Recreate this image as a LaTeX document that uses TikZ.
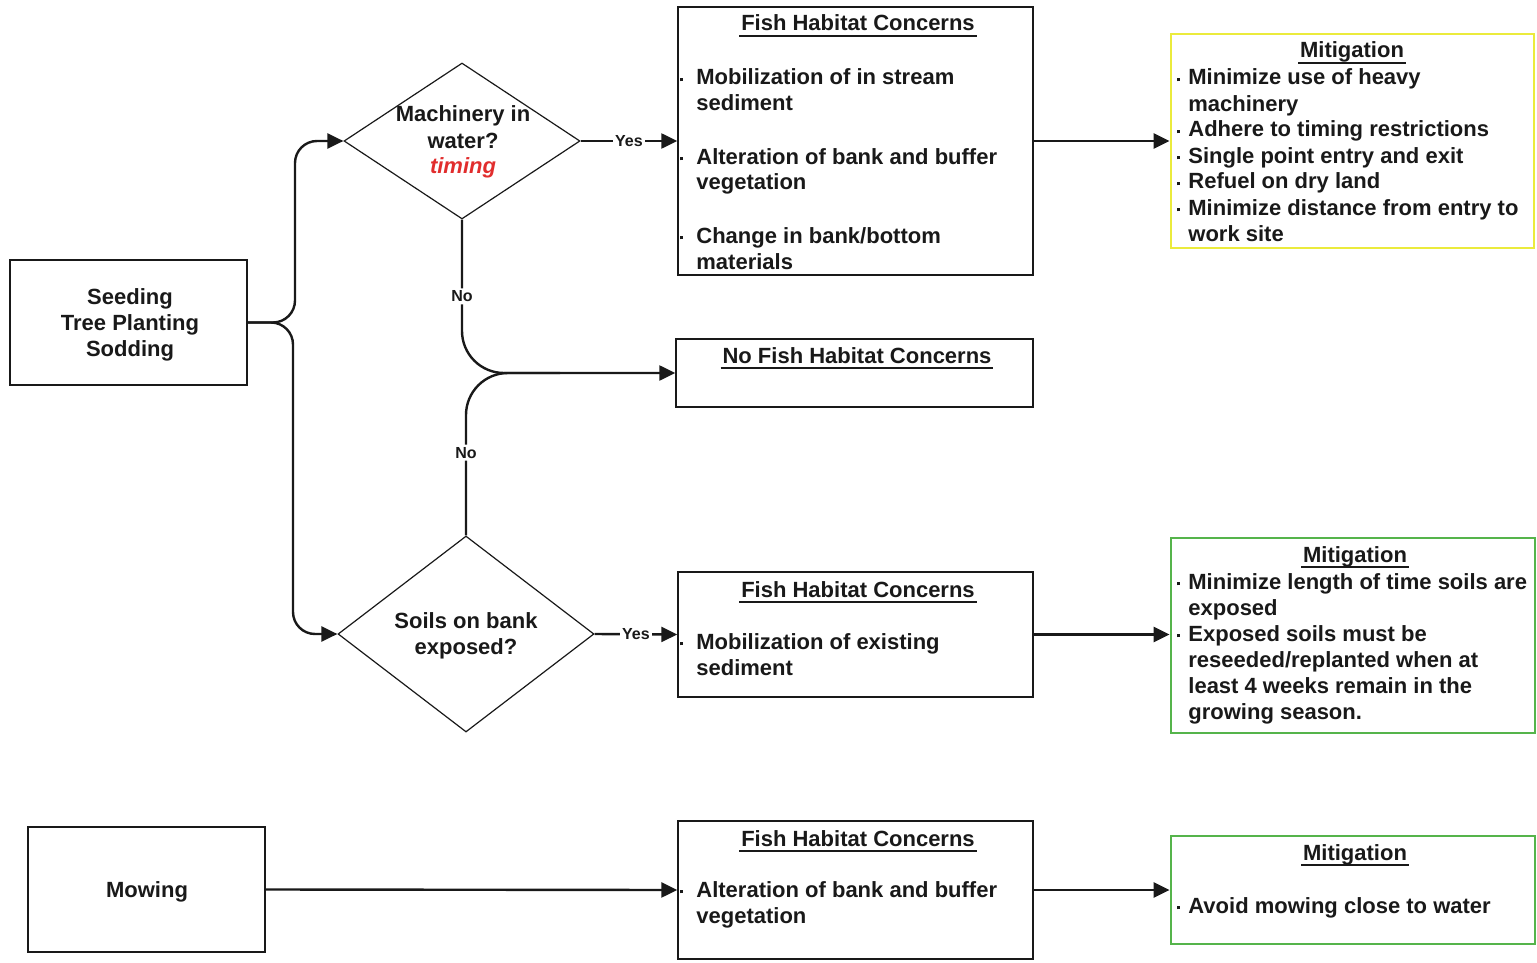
\documentclass[tikz,border=0pt]{standalone}
\usepackage{fontspec}
\setmainfont{Liberation Sans}
\usetikzlibrary{shapes.geometric,arrows.meta}
\definecolor{mityellow}{RGB}{235,235,60}
\definecolor{mitgreen}{RGB}{85,180,75}
\definecolor{timred}{RGB}{225,45,45}
\definecolor{ink}{RGB}{25,25,25}
\newcommand{\bul}[1]{\makebox[#1][l]{\raisebox{1.8pt}{\rule{1.5pt}{1.5pt}}}}
\newsavebox{\tlbox}
\newcommand{\ttl}[1]{\sbox{\tlbox}{#1}\rlap{\hspace{-1pt}\rule[-2.8pt]{\dimexpr\wd\tlbox+2pt\relax}{0.75pt}}\usebox{\tlbox}}
\begin{document}
\begin{tikzpicture}[x=0.5pt,y=-0.5pt,
  box/.style={rectangle, draw=ink, line width=0.7pt, inner sep=0pt},
  dia/.style={diamond, draw=ink, line width=0.6pt, inner sep=0pt},
  mit/.style={rectangle, line width=1.4pt, inner sep=0pt},
  txt/.style={font=\bfseries\fontsize{11}{13}\selectfont, text=ink, inner sep=0pt, align=left, anchor=base west},
  ctr/.style={font=\bfseries\fontsize{11}{13}\selectfont, text=ink, inner sep=0pt, align=center, anchor=base},
  lbl/.style={font=\bfseries\fontsize{8}{9}\selectfont, text=ink, fill=white, inner sep=1.2pt},
  conn/.style={line width=1.2pt, draw=ink},
  arr/.style={conn, -{Triangle[length=8pt,width=7.5pt]}}
]
\useasboundingbox (0,0) rectangle (1537,963);

% boxes
\node[box, minimum width=118.5pt, minimum height=62.5pt] (seed) at (128.5,322.5) {};
\node[dia, minimum width=118pt, minimum height=78pt] (d1) at (462,141) {};
\node[box, minimum width=177.5pt, minimum height=134pt] (f1) at (855.5,141) {};
\node[mit, draw=mityellow, minimum width=181.5pt, minimum height=107pt] (m1) at (1352.5,141) {};
\node[box, minimum width=178.5pt, minimum height=34pt] (nf) at (854.5,373) {};
\node[dia, minimum width=128pt, minimum height=98pt] (d2) at (466,634) {};
\node[box, minimum width=177.5pt, minimum height=62.5pt] (f2) at (855.5,634.5) {};
\node[mit, draw=mitgreen, minimum width=182pt, minimum height=97.5pt] (m2) at (1353,635.5) {};
\node[box, minimum width=118.5pt, minimum height=62.5pt] (mow) at (146.5,889.5) {};
\node[box, minimum width=177.5pt, minimum height=69pt] (f3) at (855.5,890) {};
\node[mit, draw=mitgreen, minimum width=182pt, minimum height=54pt] (m3) at (1353,890) {};

% texts (multi-line nodes: base = last line's baseline)
\node[ctr] (seedt) at (130,356) {Seeding\\Tree Planting\\Sodding};
\node[ctr] (mowt) at (147,897) {Mowing};
\node[ctr] (d1t) at (463,174) {Machinery in\\water?\\\textcolor{timred}{\itshape timing}};
\node[ctr] (d2t) at (466,654) {Soils on bank\\exposed?};

\node[ctr] (f1h) at (858,31) {\ttl{Fish Habitat Concerns}};
\node[txt] (f1a) at (680,111) {\bul{8pt}Mobilization of in stream\\\hspace*{8pt}sediment};
\node[txt] (f1b) at (680,190) {\bul{8pt}Alteration of bank and buffer\\\hspace*{8pt}vegetation};
\node[txt] (f1c) at (680,269) {\bul{8pt}Change in bank/bottom\\\hspace*{8pt}materials};

\node[ctr] (nfh) at (857,363) {\ttl{No Fish Habitat Concerns}};

\node[ctr] (f2h) at (858,597) {\ttl{Fish Habitat Concerns}};
\node[txt] (f2a) at (680,675) {\bul{8pt}Mobilization of existing\\\hspace*{8pt}sediment};

\node[ctr] (f3h) at (858,846) {\ttl{Fish Habitat Concerns}};
\node[txt] (f3a) at (680,923) {\bul{8pt}Alteration of bank and buffer\\\hspace*{8pt}vegetation};

\node[ctr] (m1h) at (1352,58) {\ttl{Mitigation}};
\node[txt] (m1a) at (1177,241) {\bul{5.5pt}Minimize use of heavy\\
\hspace*{5.5pt}machinery\\
\bul{5.5pt}Adhere to timing restrictions\\
\bul{5.5pt}Single point entry and exit\\
\bul{5.5pt}Refuel on dry land\\
\bul{5.5pt}Minimize distance from entry to\\
\hspace*{5.5pt}work site};

\node[ctr] (m2h) at (1355,562) {\ttl{Mitigation}};
\node[txt] (m2a) at (1177,719) {\bul{5.5pt}Minimize length of time soils are\\
\hspace*{5.5pt}exposed\\
\bul{5.5pt}Exposed soils must be\\
\hspace*{5.5pt}reseeded/replanted when at\\
\hspace*{5.5pt}least 4 weeks remain in the\\
\hspace*{5.5pt}growing season.};

\node[ctr] (m3h) at (1355,860) {\ttl{Mitigation}};
\node[txt] (m3a) at (1177,913) {\bul{5.5pt}Avoid mowing close to water};

% connectors
\coordinate (brtop) at (295,141);
\coordinate (brbot) at (293,634);
\coordinate (merge) at (560,373);
\draw[arr, rounded corners=11pt] (seed.east) -| (brtop) -- (d1.west);
\draw[arr, rounded corners=11pt] (seed.east) -| (brbot) -- (d2.west);
\draw[arr] (d1.east) -- node[lbl] (y1) {Yes} (f1.west);
\draw[arr, rounded corners=21pt] (d1.south) |- node[lbl, pos=0.25] (n1) {No} (nf.west);
\draw[conn, rounded corners=21pt] (d2.north) |- node[lbl, pos=0.255] (n2) {No} (merge);
\draw[arr] (d2.east) -- node[lbl] (y2) {Yes} (f2.west);
\draw[arr] (f1.east) -- (m1.west);
\draw[arr] (f2.east) -- (f2.east -| m2.west);
\draw[arr] (mow.east) -- (f3.west);
\draw[arr] (f3.east) -- (m3.west);
\end{tikzpicture}
\end{document}
